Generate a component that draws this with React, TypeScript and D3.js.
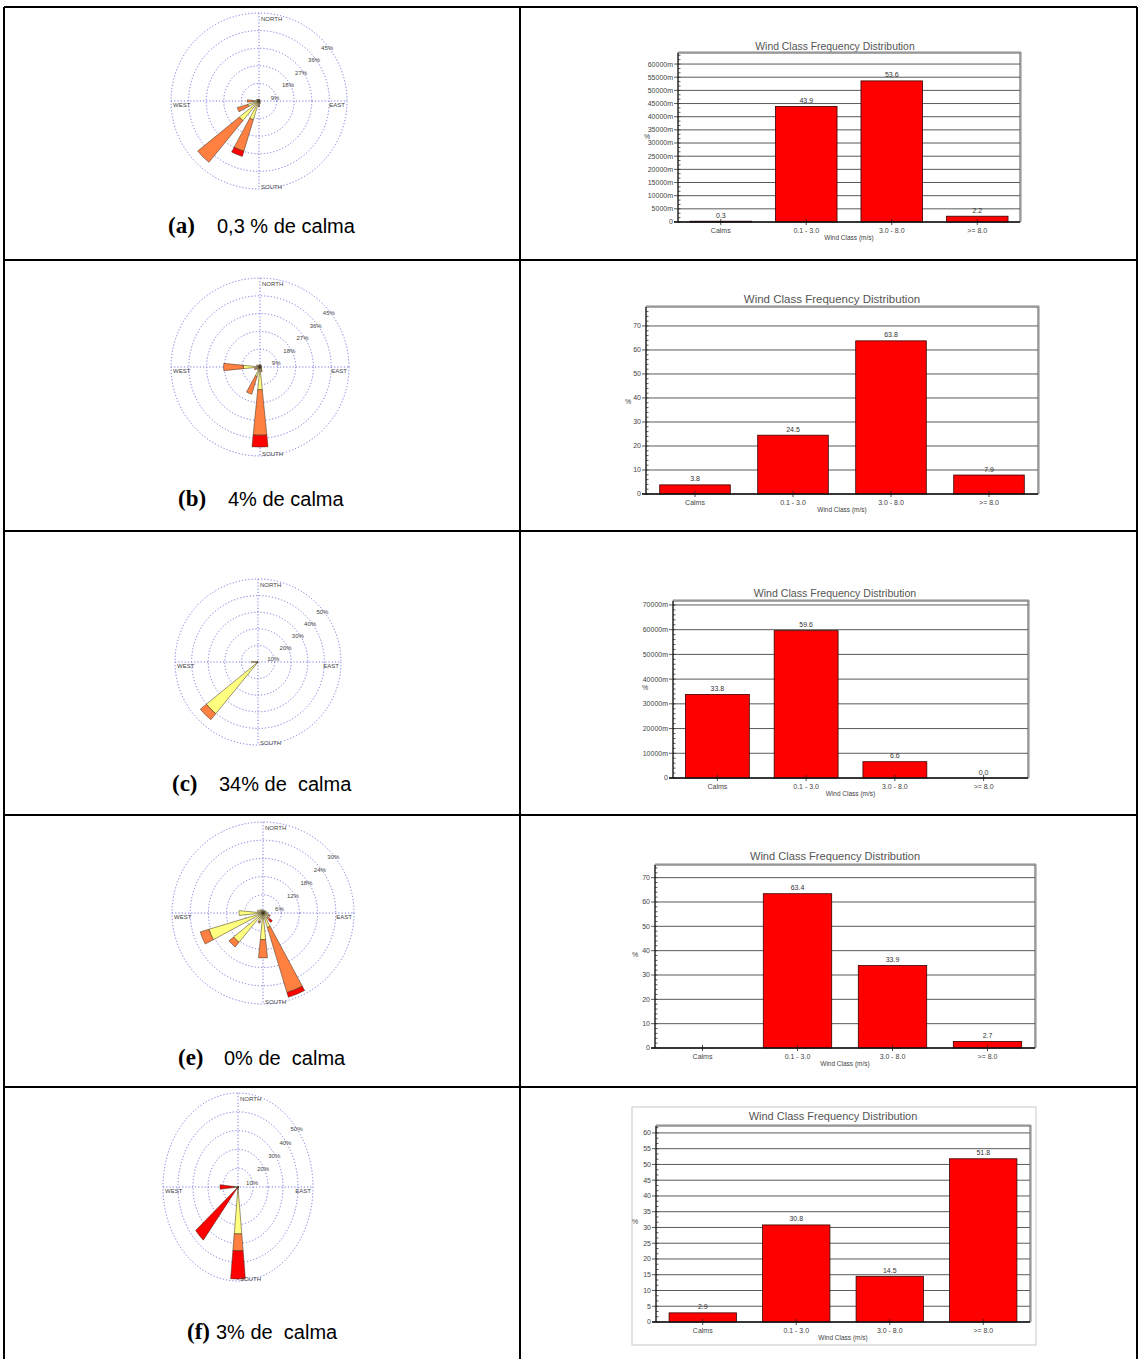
import React from 'react';
import * as d3 from 'd3';

// ---------- data ----------
const DIRS = ['N','NNE','NE','ENE','E','ESE','SE','SSE','S','SSW','SW','WSW','W','WNW','NW','NNW'];
const WIND_CLASSES = ['Calms', '0.1 - 3.0', '3.0 - 8.0', '>= 8.0'];

// wind rose petals (% per direction and speed class: low = 0.1-3, mid = 3-8, high = >=8)
const roseA_low  = [1.0,0.8,0.6,0.5,0.8,0.5,1.0,1.5,2.0,10.0,13.0,6.0,3.0,1.5,1.2,1.0];
const roseA_mid  = [0,0,0,0,0,0,0,0,1.0,16.8,27.5,5.6,3.0,0,0,0];
const roseA_high = [0,0,0,0,0,0,0,0,0,2.8,0,0,0,0,0,0];
const roseA_rings = [9,18,27,36,45];

const roseB_low  = [1.5,1.0,1.0,0.8,1.0,0.8,1.2,1.5,11.5,5.0,2.0,2.0,8.4,2.0,1.5,1.2];
const roseB_mid  = [0,0,0,0,0,0,0,1.0,23.0,9.4,0,1.0,10.0,0,0,0];
const roseB_high = [0,0,0,0,0,0,0,0,6.0,0,0,0,0,0,0,0];
const roseB_rings = [9,18,27,36,45];

const roseC_low  = [0,0,0,0,0,0,0,0,0,0,40.2,1.0,4.0,0.5,0.5,0];
const roseC_mid  = [0,0,0,0,0,0,0,0,0,0,4.7,0,0,0,0,0];
const roseC_high = [0,0,0,0,0,0,0,0,0,0,0,0,0,0,0,0];
const roseC_rings = [10,20,30,40,50];

const roseE_low  = [1.0,1.0,1.0,1.2,1.5,2.0,2.0,5.0,8.8,3.0,12.5,18.6,7.9,2.0,1.5,1.2];
const roseE_mid  = [0,0,0,0,0,0.5,1.0,22.4,6.0,0.5,2.0,3.0,0,0,0,0];
const roseE_high = [0,0,0,0,0,0,1.0,1.6,0,0,0,0,0,0,0,0];
const roseE_rings = [6,12,18,24,30];

const roseF_low  = [0.3,0.3,0.3,0.3,0.3,0.3,0.3,0.5,25.0,1.0,0.5,1.0,1.5,0.3,0.3,0.3];
const roseF_mid  = [0,0,0,0,0,0,0,0,9.0,0,0,0,1.0,0,0,0];
const roseF_high = [0,0,0,0,0,0,0,0,15.0,0,36.0,0,9.5,0,0,0];
const roseF_rings = [10,20,30,40,50];

// bar charts: wind class frequency (%)
const barA = [0.3, 43.9, 53.6, 2.2];
const barB = [3.8, 24.5, 63.8, 7.9];
const barC = [33.8, 59.6, 6.6, 0.0];
const barE = [0.0, 63.4, 33.9, 2.7];
const barF = [2.9, 30.8, 14.5, 51.8];

const CAPTION_TAGS = ['(a)', '(b)', '(c)', '(e)', '(f)'];
const CAPTION_TEXTS = ['0,3 % de calma', '4% de calma', '34% de  calma', '0% de  calma', '3% de  calma'];

// ---------- styles ----------
const COL_LOW = '#ffff80';
const COL_MID = '#ff8040';
const COL_HIGH = '#ff0000';
const GRID_BLUE = '#7878e0';
const SANS = 'Liberation Sans, Arial, sans-serif';
const SERIF = 'Liberation Serif, Times New Roman, serif';

function Rose({ cx, cy, rx, ry, rings, low, mid, high }) {
  const max = rings[rings.length - 1];
  const r = d3.scaleLinear().domain([0, max]).range([0, rx]);
  const sy = ry / rx;
  const w = (11.5 * Math.PI) / 180;
  const arc = d3.arc();
  const segs = [];
  DIRS.forEach((d, i) => {
    const a = (i * Math.PI) / 8;
    let c = 0;
    [[low[i], COL_LOW], [mid[i], COL_MID], [high[i], COL_HIGH]].forEach(([v, col]) => {
      if (v > 0) {
        segs.push({
          key: d + col,
          path: arc({ innerRadius: r(c), outerRadius: r(c + v), startAngle: a - w / 2, endAngle: a + w / 2 }),
          col,
        });
        c += v;
      }
    });
  });
  const fs = 6;
  return (
    <g>
      <g transform={`translate(${cx},${cy}) scale(1,${sy})`}>
        {rings.map((v) => (
          <circle key={v} r={r(v)} fill="none" stroke={GRID_BLUE} strokeWidth={1}
            strokeDasharray="1.2 2" vectorEffect="non-scaling-stroke" />
        ))}
        <line x1={-rx} x2={rx} y1={0} y2={0} stroke={GRID_BLUE} strokeDasharray="1.2 2" vectorEffect="non-scaling-stroke" />
        <line x1={0} x2={0} y1={-rx} y2={rx} stroke={GRID_BLUE} strokeDasharray="1.2 2" vectorEffect="non-scaling-stroke" />
        {segs.map((s) => (
          <path key={s.key} d={s.path} fill={s.col} stroke="#3a2a1a" strokeWidth={0.5} vectorEffect="non-scaling-stroke" />
        ))}
      </g>
      {rings.map((v) => {
        const rr = r(v);
        return (
          <text key={'l' + v} x={cx + 3 + 0.74 * rr} y={cy + 9 - 0.71 * rr * sy} dy="0.35em"
            textAnchor="middle" fontSize={fs} fill="#444" fontFamily={SANS}>{v}%</text>
        );
      })}
      <text x={cx + 2} y={cy - ry + 6} dy="0.35em" fontSize={fs} fill="#444" fontFamily={SANS}>NORTH</text>
      <text x={cx + 2} y={cy + ry - 2} dy="0.35em" fontSize={fs} fill="#444" fontFamily={SANS}>SOUTH</text>
      <text x={cx - rx + 2} y={cy + 4} dy="0.35em" fontSize={fs} fill="#444" fontFamily={SANS}>WEST</text>
      <text x={cx + rx - 2} y={cy + 4} dy="0.35em" textAnchor="end" fontSize={fs} fill="#444" fontFamily={SANS}>EAST</text>
    </g>
  );
}

function BarChart({ left, right, top, bottom, yMax, step, mFmt, values, titleX, titleY, titleSize, pctX, pctY, hideZero, minorDiv }) {
  const x = d3.scaleBand().domain(WIND_CLASSES).range([left, right]).paddingInner(0.28).paddingOuter(0.14);
  const y = d3.scaleLinear().domain([0, yMax]).range([bottom, top]);
  const ticks = d3.range(0, yMax + 1e-9, step);
  const minor = d3.range(0, yMax, step / minorDiv);
  const fmt = (v) => (v === 0 ? '0' : mFmt ? `${v * 1000}m` : `${v}`);
  return (
    <g fontFamily={SANS}>
      <text x={titleX} y={titleY} dy="0.35em" textAnchor="middle" fontSize={titleSize} fill="#555">
        Wind Class Frequency Distribution
      </text>
      <rect x={left} y={top} width={right - left} height={bottom - top} fill="#fff" stroke="#555" strokeWidth={1} />
      <line x1={left} x2={right + 1} y1={top - 1} y2={top - 1} stroke="#888" strokeWidth={1} />
      <line x1={right + 1} x2={right + 1} y1={top - 1} y2={bottom} stroke="#888" strokeWidth={1} />
      {ticks.filter((t) => t > 0).map((t) => (
        <line key={'g' + t} x1={left} x2={right} y1={y(t)} y2={y(t)} stroke="#5a5a5a" strokeWidth={1} />
      ))}
      {minor.map((t) => (
        <line key={'m' + t} x1={left} x2={left + 2.5} y1={y(t)} y2={y(t)} stroke="#333" strokeWidth={0.8} />
      ))}
      {ticks.map((t) => (
        <g key={'t' + t}>
          <line x1={left - 4} x2={left} y1={y(t)} y2={y(t)} stroke="#333" strokeWidth={0.8} />
          <text x={left - 5} y={y(t)} dy="0.35em" textAnchor="end" fontSize={7} fill="#444">{fmt(t)}</text>
        </g>
      ))}
      <text x={pctX} y={pctY} dy="0.35em" textAnchor="middle" fontSize={7} fill="#444">%</text>
      {values.map((v, i) => {
        const c = WIND_CLASSES[i];
        return (
          <g key={c}>
            {v > 0 && (
              <rect x={x(c)} y={y(v)} width={x.bandwidth()} height={bottom - y(v)} fill={COL_HIGH} stroke="#3a0000" strokeWidth={0.8} />
            )}
            {!(hideZero && v === 0) && (
              <text x={x(c) + x.bandwidth() / 2} y={y(v) - 3.5} textAnchor="middle" fontSize={7} fill="#333">{v.toFixed(1)}</text>
            )}
            <line x1={x(c) + x.bandwidth() / 2} x2={x(c) + x.bandwidth() / 2} y1={bottom - 3} y2={bottom + 3} stroke="#222" strokeWidth={0.8} />
            <text x={x(c) + x.bandwidth() / 2} y={bottom + 9} dy="0.35em" textAnchor="middle" fontSize={7} fill="#444">{c}</text>
          </g>
        );
      })}
      <line x1={left} x2={left} y1={top} y2={bottom} stroke="#111" strokeWidth={1} />
      <line x1={left - 4} x2={right} y1={bottom} y2={bottom} stroke="#111" strokeWidth={1.5} />
      <text x={(left + right) / 2} y={bottom + 16} dy="0.35em" textAnchor="middle" fontSize={6.5} fill="#444">Wind Class (m/s)</text>
    </g>
  );
}

export default function App() {
  const capY = [233, 506, 791, 1065, 1339];
  const tagX = [168, 178, 172, 178, 187];
  const txtX = [217, 228, 219, 224, 216];
  return (
    <svg width={1141} height={1359} style={{ position: 'absolute', left: 0, top: 0, background: '#fff' }}>
      <rect x={0} y={0} width={1141} height={1359} fill="#fff" />
      {/* table */}
      <g stroke="#000" strokeWidth={2} fill="none">
        <line x1={4} x2={1137} y1={7} y2={7} />
        <line x1={4} x2={4} y1={7} y2={1359} />
        <line x1={1137} x2={1137} y1={7} y2={1359} />
        <line x1={520} x2={520} y1={7} y2={1359} />
        {[260, 531, 815, 1087].map((yy) => (
          <line key={yy} x1={4} x2={1137} y1={yy} y2={yy} />
        ))}
      </g>

      <Rose cx={259} cy={101} rx={88} ry={88} rings={roseA_rings} low={roseA_low} mid={roseA_mid} high={roseA_high} />
      <Rose cx={260} cy={367} rx={89} ry={89} rings={roseB_rings} low={roseB_low} mid={roseB_mid} high={roseB_high} />
      <Rose cx={258} cy={662} rx={83} ry={83} rings={roseC_rings} low={roseC_low} mid={roseC_mid} high={roseC_high} />
      <Rose cx={263} cy={913} rx={91} ry={91} rings={roseE_rings} low={roseE_low} mid={roseE_mid} high={roseE_high} />
      <Rose cx={238} cy={1187} rx={75} ry={94} rings={roseF_rings} low={roseF_low} mid={roseF_mid} high={roseF_high} />

      {CAPTION_TAGS.map((t, i) => (
        <g key={t}>
          <text x={tagX[i]} y={capY[i]} fontFamily={SERIF} fontWeight="bold" fontSize={23} fill="#000">{t}</text>
          <text x={txtX[i]} y={capY[i]} fontFamily={SANS} fontSize={20} fill="#000" style={{ whiteSpace: 'pre' }}>{CAPTION_TEXTS[i]}</text>
        </g>
      ))}

      <BarChart left={678} right={1020} top={53} bottom={222} yMax={64.2} step={5} mFmt values={barA}
        titleX={835} titleY={46} titleSize={10.4} pctX={647} pctY={137} minorDiv={3} />
      <BarChart left={646} right={1038} top={307} bottom={494} yMax={77.9} step={10} mFmt={false} values={barB}
        titleX={832} titleY={299} titleSize={11.5} pctX={628} pctY={402} minorDiv={5} />
      <BarChart left={673} right={1028} top={601} bottom={778} yMax={71.6} step={10} mFmt values={barC}
        titleX={835} titleY={593} titleSize={10.6} pctX={645} pctY={688} minorDiv={5} />
      <BarChart left={655} right={1035} top={865} bottom={1048} yMax={75.2} step={10} mFmt={false} values={barE}
        titleX={835} titleY={856} titleSize={11.1} pctX={635} pctY={955} hideZero minorDiv={5} />
      <rect x={632} y={1107} width={404} height={238} fill="none" stroke="#c8c8c8" strokeWidth={1} />
      <BarChart left={656} right={1030} top={1126} bottom={1322} yMax={62.2} step={5} mFmt={false} values={barF}
        titleX={833} titleY={1116} titleSize={11} pctX={635} pctY={1222} minorDiv={3} />
    </svg>
  );
}
